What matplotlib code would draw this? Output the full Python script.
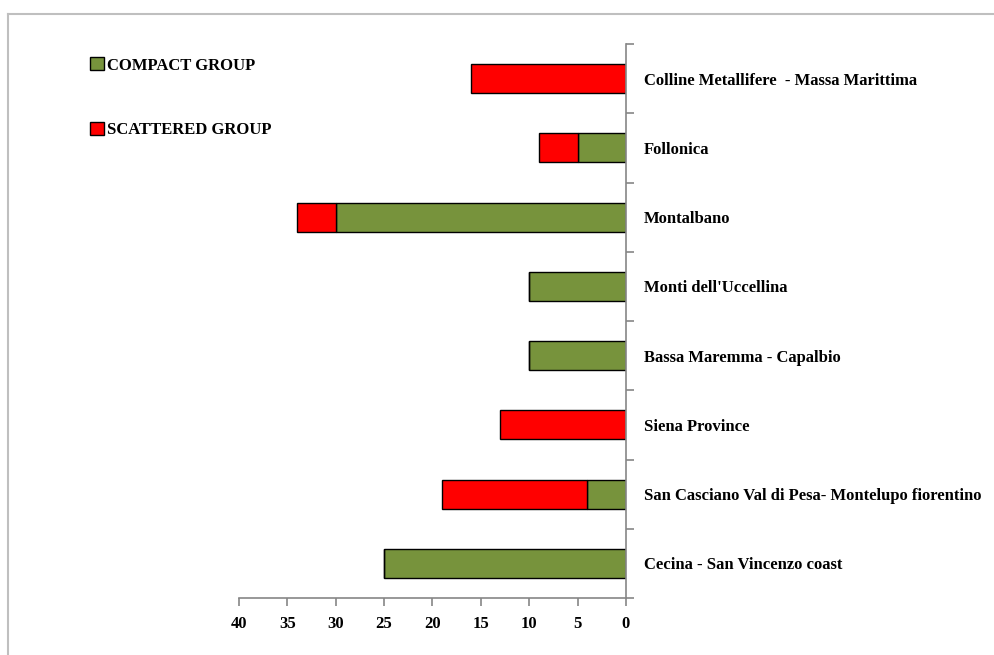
import matplotlib
matplotlib.use("Agg")
import matplotlib.pyplot as plt
from matplotlib.lines import Line2D
from matplotlib.patches import Patch

categories = ["Colline Metallifere  - Massa Marittima", "Follonica", "Montalbano",
              "Monti dell'Uccellina", "Bassa Maremma - Capalbio", "Siena Province",
              "San Casciano Val di Pesa- Montelupo fiorentino", "Cecina - San Vincenzo coast"]
compact = [0, 5, 30, 10, 10, 0, 4, 25]
scattered = [16, 4, 4, 0, 0, 13, 15, 0]
xticks = [40, 35, 30, 25, 20, 15, 10, 5, 0]

GREEN = "#77933C"
RED = "#FF0000"
GRAY = "#868686"
FONT = ["Liberation Serif", "DejaVu Serif"]
plt.rcParams["font.family"] = FONT
plt.rcParams["font.weight"] = "bold"
FS = 12

fig = plt.figure(figsize=(9.95, 6.55), dpi=100)
ax = fig.add_axes([239/995, 1-598/655, 387/995, 554/655])

y = list(range(len(categories)))
ax.barh(y, compact, height=0.42, color=GREEN, edgecolor="black", linewidth=1.0, label="COMPACT GROUP")
ax.barh(y, scattered, left=compact, height=0.42, color=RED, edgecolor="black", linewidth=1.0, label="SCATTERED GROUP")

ax.set_xlim(40, 0)
ax.set_ylim(len(categories)-0.5, -0.5)

for s in ["left", "top"]:
    ax.spines[s].set_visible(False)
for s in ["right", "bottom"]:
    ax.spines[s].set_color(GRAY)
    ax.spines[s].set_linewidth(1.2)

ax.set_xticks(xticks)
ax.set_xticklabels([str(v) for v in xticks], fontsize=FS, fontweight="bold")
ax.tick_params(axis="x", direction="out", length=6, color=GRAY, width=1.2, pad=7)

ax.yaxis.tick_right()
ax.set_yticks(y)
ax.set_yticklabels(categories, fontsize=FS, fontweight="bold", ha="left")
ax.tick_params(axis="y", which="major", length=0, pad=13)
ax.set_yticks([i - 0.5 for i in range(len(categories)+1)], minor=True)
ax.tick_params(axis="y", which="minor", direction="out", length=6, color=GRAY, width=1.2, right=True)

handles = [Patch(facecolor=GREEN, edgecolor="black", label="COMPACT GROUP"),
           Patch(facecolor=RED, edgecolor="black", label="SCATTERED GROUP")]
fig.legend(handles=handles, loc="upper left", bbox_to_anchor=(82/995, 1-49/655),
           frameon=False, labelspacing=2.9, handlelength=0.8,
           handleheight=0.8, handletextpad=0.2, borderpad=0, prop={"weight": "bold", "size": FS})

# outer chart frame (cut off at the right and bottom)
fig.add_artist(Line2D([8/995, 8/995], [1-14/655, -0.05], color="#BFBFBF", linewidth=1.5, transform=fig.transFigure))
fig.add_artist(Line2D([8/995, 1.05], [1-14/655, 1-14/655], color="#BFBFBF", linewidth=1.5, transform=fig.transFigure))

fig.savefig("out.png", dpi=100)
